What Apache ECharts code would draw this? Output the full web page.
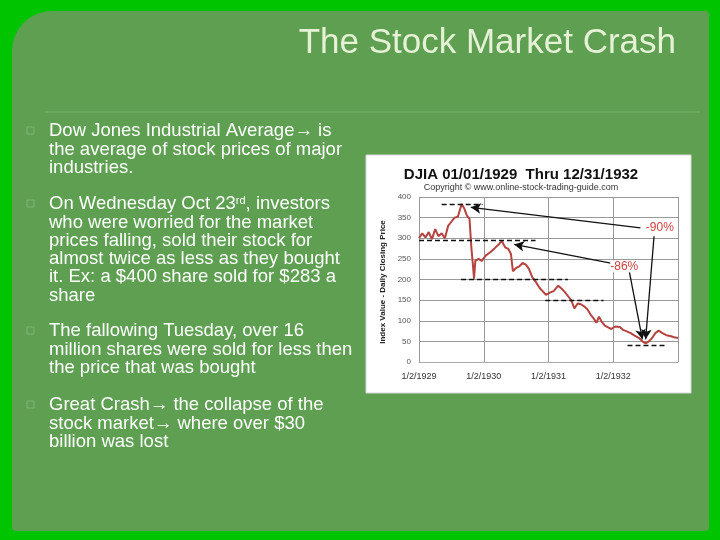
<!DOCTYPE html>
<html><head><meta charset="utf-8">
<script src="https://cdn.jsdelivr.net/npm/echarts@6/dist/echarts.min.js"></script>
<style>html,body{margin:0;padding:0;background:#00c400}#c{width:720px;height:540px}</style>
</head><body><div id="c"></div>
<script>
const years = [1929, 1930, 1931, 1932, 1933];
const yearLabels = ['1/2/1929', '1/2/1930', '1/2/1931', '1/2/1932', ''];
const yTicks = [0, 50, 100, 150, 200, 250, 300, 350, 400];
const djiaDates = [1929.0,1929.05,1929.1,1929.15,1929.2,1929.25,1929.3,1929.35,1929.4,1929.45,1929.5,1929.55,1929.6,1929.63,1929.66,1929.7,1929.74,1929.78,1929.81,1929.83,1929.85,1929.87,1929.92,1929.97,1930.03,1930.1,1930.17,1930.23,1930.28,1930.33,1930.38,1930.42,1930.45,1930.5,1930.55,1930.6,1930.65,1930.7,1930.75,1930.8,1930.86,1930.92,1930.96,1931.02,1931.08,1931.15,1931.2,1931.25,1931.3,1931.35,1931.4,1931.45,1931.5,1931.55,1931.6,1931.65,1931.7,1931.74,1931.78,1931.82,1931.87,1931.92,1931.97,1932.03,1932.1,1932.15,1932.2,1932.27,1932.33,1932.4,1932.45,1932.5,1932.55,1932.6,1932.65,1932.7,1932.76,1932.82,1932.88,1932.94,1933.0];
const djiaValues = [300,312,302,315,298,322,305,312,300,330,340,350,352,368,383,372,355,347,275,240,202,245,250,245,258,266,276,285,293,278,274,262,220,228,232,240,236,225,205,195,180,170,163,168,172,185,178,170,160,150,130,142,140,135,128,115,105,95,110,98,88,84,80,86,85,78,75,70,64,58,50,45,50,58,70,76,70,65,63,60,58];
const slideBullets = [
  ['Dow Jones Industrial Average\u2192 is', 'the average of stock prices of major', 'industries.'],
  ['On Wednesday Oct 23{s|rd}, investors', 'who were worried for the market', 'prices falling, sold their stock for', 'almost twice as less as they bought', 'it. Ex: a $400 share sold for $283 a', 'share'],
  ['The fallowing Tuesday, over 16', 'million shares were sold for less then', 'the price that was bought'],
  ['Great Crash\u2192 the collapse of the', 'stock market\u2192 where over $30', 'billion was lost']
];
const bulletTops = [122, 195, 322, 396];
const dashedLines = [[[1929.35,382],[1929.98,382]],[[1929.0,295],[1930.8,295]],[[1929.65,200],[1931.3,200]],[[1930.95,150],[1931.85,150]],[[1932.22,41],[1932.8,41]]];
const arrows = [[[1932.42,325],[1929.8,375]],[[1932.02,238],[1930.47,285]],[[1932.63,305],[1932.5,55]],[[1932.25,218],[1932.45,55]]];

const chart = echarts.init(document.getElementById('c'));
const graphics = [
  {type:'rect', shape:{x:12,y:11,width:697,height:520,r:[40,4,4,4]}, style:{fill:'#5e9f52'}, z:-10},
  {type:'line', shape:{x1:45,y1:112,x2:700,y2:112}, style:{stroke:'#79b06c',lineWidth:1}, z:-9},
  {type:'text', style:{text:'The Stock Market Crash', x:676, y:43, align:'right', verticalAlign:'middle', font:'35px "Liberation Sans", Arial', fill:'#e6f2d6', shadowColor:'rgba(0,0,0,0.5)', shadowOffsetX:1, shadowOffsetY:1}},
  {type:'rect', shape:{x:366,y:155,width:325,height:238}, style:{fill:'#ffffff', stroke:'#d8d8d8'}, z:-5},
  {type:'text', style:{text:'DJIA 01/01/1929  Thru 12/31/1932', x:521, y:175, align:'center', verticalAlign:'middle', font:'bold 15px "Liberation Sans", Arial', fill:'#111'}},
  {type:'text', style:{text:'Copyright \u00a9 www.online-stock-trading-guide.com', x:521, y:188, align:'center', verticalAlign:'middle', font:'9px "Liberation Sans", Arial', fill:'#333'}},
  {type:'text', rotation:Math.PI/2, x:383, y:282, style:{text:'Index Value - Daily Closing Price', align:'center', verticalAlign:'middle', font:'bold 8px "Liberation Sans", Arial', fill:'#222'}}
];
slideBullets.forEach((lines, i) => {
  graphics.push({type:'rect', shape:{x:27,y:bulletTops[i]+5,width:7,height:7}, style:{fill:'none', stroke:'#7fb574'}});
  graphics.push({type:'text', style:{text:lines.join('\n'), x:49, y:bulletTops[i], lineHeight:18.3, font:'18.5px "Liberation Sans", Arial', fill:'#ffffff',
    rich:{s:{fontSize:11, verticalAlign:'top', padding:[0,0,6,0], fill:'#fff', fontFamily:'Liberation Sans'}}}});
});
const mark = [];
dashedLines.forEach(p => mark.push([{coord:p[0], lineStyle:{type:[5,3], color:'#111', width:1.3}, symbol:'none'},{coord:p[1], symbol:'none'}]));
arrows.forEach(p => mark.push([{coord:p[0], lineStyle:{type:'solid', color:'#111', width:1.3}, symbol:'none'},{coord:p[1], symbol:'arrow', symbolSize:[8,10]}]));

chart.setOption({
  animation:false,
  graphic: graphics,
  grid:{left:419, right:42, top:197, bottom:178},
  xAxis:{type:'value', min:1929, max:1933, interval:1,
    axisLine:{show:true, lineStyle:{color:'#aaa'}}, axisTick:{show:false},
    splitLine:{show:true, lineStyle:{color:'#999'}},
    axisLabel:{color:'#333', fontSize:9, formatter:v=>yearLabels[years.indexOf(v)] || '', margin:10, showMaxLabel:false}},
  yAxis:{type:'value', min:0, max:400, interval:50,
    axisLine:{show:false}, axisTick:{show:false},
    splitLine:{lineStyle:{color:'#999'}},
    axisLabel:{color:'#555', fontSize:8, formatter:v=>yTicks.includes(v)?String(v):''}},
  series:[{type:'line', data:djiaDates.map((d,i)=>[d,djiaValues[i]]), showSymbol:false,
    lineStyle:{color:'#b5433f', width:2}, z:3,
    markLine:{silent:true, symbol:['none','none'], label:{show:false}, data:mark, z:4},
    markPoint:{symbol:'rect', symbolSize:1, itemStyle:{color:'transparent'},
      data:[{coord:[1932.72,325], label:{show:true, formatter:'-90%', color:'#d04040', fontSize:12, backgroundColor:'#fff'}},
            {coord:[1932.17,232], label:{show:true, formatter:'-86%', color:'#d04040', fontSize:12, backgroundColor:'#fff'}}]}
  }]
});
</script></body></html>
